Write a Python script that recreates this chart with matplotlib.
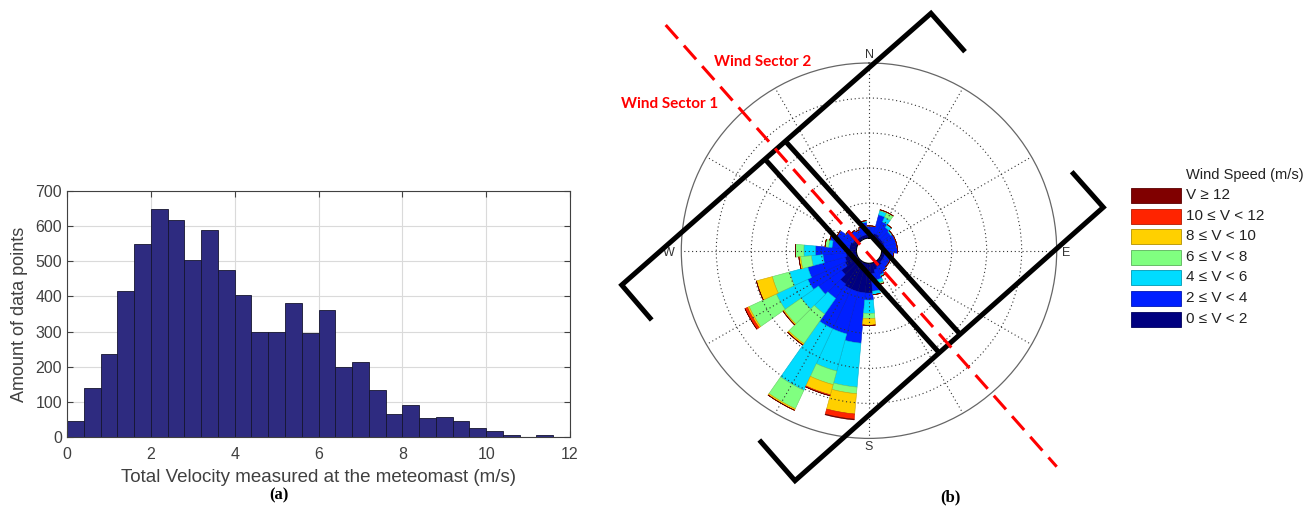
#!/usr/bin/env python

import numpy as np
import matplotlib
matplotlib.use('Agg')
import matplotlib.pyplot as plt
from matplotlib.patches import Rectangle

# (a) histogram of total velocity at the meteomast
speed_bins = [0.0, 0.4, 0.8, 1.2, 1.6, 2.0, 2.4, 2.8, 3.2, 3.6, 4.0, 4.4, 4.8, 5.2, 5.6,
              6.0, 6.4, 6.8, 7.2, 7.6, 8.0, 8.4, 8.8, 9.2, 9.6, 10.0, 10.4, 10.8, 11.2]
counts = [45, 140, 235, 415, 548, 650, 618, 503, 590, 475, 403, 298, 298, 382, 295,
          360, 198, 212, 135, 65, 90, 55, 58, 45, 27, 17, 5, 1, 5]
bin_width = 0.4

# (b) wind rose, frequency per direction (segment length per speed class)
directions = [0, 10, 20, 30, 40, 50, 60, 70, 80, 90, 100, 110, 120, 130, 140, 150, 160, 170,
              180, 190, 200, 210, 220, 230, 240, 250, 260, 270, 280, 290, 300, 310, 320, 330, 340, 350]
v0_2 = [0.10, 0.10, 0.15, 0.15, 0.10, 0.10, 0.10, 0.10, 0.10, 0.10, 0.10, 0.10, 0.10, 0.10, 0.15, 0.15, 0.20, 0.30,
        0.85, 0.85, 0.85, 0.85, 0.80, 0.60, 0.40, 0.35, 0.30, 0.25, 0.20, 0.20, 0.15, 0.10, 0.10, 0.10, 0.10, 0.10]
v2_4 = [0.25, 0.25, 0.55, 0.40, 0.35, 0.30, 0.35, 0.35, 0.35, 0.35, 0.25, 0.20, 0.20, 0.20, 0.20, 0.25, 0.30, 0.50,
        0.20, 1.44, 1.25, 1.25, 0.50, 0.80, 1.17, 1.10, 0.66, 0.92, 0.50, 0.60, 0.49, 0.35, 0.25, 0.20, 0.25, 0.35]
v4_6 = [0.00, 0.00, 0.12, 0.15, 0.10, 0.05, 0.00, 0.00, 0.00, 0.00, 0.00, 0.00, 0.00, 0.00, 0.00, 0.05, 0.10, 0.10,
        0.38, 1.26, 1.10, 1.94, 0.55, 0.60, 0.99, 0.54, 0.33, 0.33, 0.10, 0.00, 0.00, 0.00, 0.00, 0.00, 0.00, 0.05]
v6_8 = [0.00, 0.00, 0.03, 0.15, 0.00, 0.00, 0.00, 0.00, 0.00, 0.00, 0.00, 0.00, 0.00, 0.00, 0.00, 0.00, 0.05, 0.00,
        0.15, 0.19, 0.40, 0.58, 1.03, 0.60, 0.86, 0.51, 0.31, 0.24, 0.10, 0.00, 0.00, 0.00, 0.00, 0.00, 0.00, 0.00]
v8_10 = [0.00, 0.00, 0.00, 0.00, 0.00, 0.00, 0.00, 0.00, 0.00, 0.00, 0.00, 0.00, 0.00, 0.00, 0.00, 0.00, 0.00, 0.00,
         0.19, 0.58, 0.30, 0.05, 0.05, 0.04, 0.05, 0.47, 0.05, 0.00, 0.00, 0.00, 0.00, 0.00, 0.00, 0.00, 0.00, 0.00]
v10_12 = [0.00, 0.00, 0.00, 0.00, 0.00, 0.00, 0.00, 0.00, 0.00, 0.00, 0.00, 0.00, 0.00, 0.00, 0.00, 0.00, 0.00, 0.00,
          0.00, 0.15, 0.03, 0.00, 0.00, 0.00, 0.08, 0.00, 0.00, 0.00, 0.00, 0.00, 0.00, 0.00, 0.00, 0.00, 0.00, 0.00]
v12 = [0.00, 0.00, 0.00, 0.00, 0.00, 0.00, 0.00, 0.00, 0.00, 0.00, 0.00, 0.00, 0.00, 0.00, 0.00, 0.00, 0.00, 0.00,
       0.00, 0.02, 0.00, 0.00, 0.00, 0.00, 0.00, 0.00, 0.00, 0.00, 0.00, 0.00, 0.00, 0.00, 0.00, 0.00, 0.00, 0.00]

speed_classes = [v0_2, v2_4, v4_6, v6_8, v8_10, v10_12, v12]
class_colors = ['#000080', '#0020ff', '#00dcff', '#80ff80', '#ffd000', '#ff2400', '#800000']
class_labels = ['0 \u2264 V < 2', '2 \u2264 V < 4', '4 \u2264 V < 6', '6 \u2264 V < 8',
                '8 \u2264 V < 10', '10 \u2264 V < 12', 'V \u2265 12']

# sector outlines drawn over the rose (figure pixels)
outline_ul = [(965, 51.7), (931, 13.3), (621.7, 285), (651.7, 320)]
outline_lr = [(1071.7, 171.7), (1103.3, 207.3), (795, 480.7), (759.3, 440)]
strip_1 = [(765.7, 160), (938.3, 351.7)]
strip_2 = [(786.7, 142.7), (959.3, 333.3)]
sector_axis = [(665.7, 25), (1056.7, 466.7)]


def darker(c, f=0.8):
    rgb = np.array(matplotlib.colors.to_rgb(c))
    return tuple(rgb * f)


def main():
    W, H = 1314, 513
    fig = plt.figure(figsize=(W / 100, H / 100), dpi=100)
    plt.rcParams['font.family'] = ['Liberation Sans', 'DejaVu Sans']

    # ---------- (a) histogram ----------
    ax = fig.add_axes([67 / W, (H - 437) / H, 503 / W, 246 / H])
    ax.bar(speed_bins, counts, width=bin_width, align='edge',
           color='#2e2b80', edgecolor='#151530', linewidth=0.6, zorder=2)
    ax.set_xlim(0, 12)
    ax.set_ylim(0, 700)
    ax.set_xticks(range(0, 13, 2))
    ax.set_yticks(range(0, 701, 100))
    ax.grid(True, color='#dadada', linewidth=0.8, zorder=0)
    ax.set_axisbelow(True)
    ax.tick_params(direction='in', length=4, labelsize=11.5, colors='#404040',
                   top=True, right=True)
    ax.tick_params(axis='x', pad=7)
    for s in ax.spines.values():
        s.set_color('#404040')
        s.set_linewidth(0.8)
    ax.set_xlabel('Total Velocity measured at the meteomast (m/s)', fontsize=13.5,
                  color='#404040', labelpad=5)
    ax.set_ylabel('Amount of data points', fontsize=13, color='#404040', labelpad=5)

    # ---------- (b) wind rose ----------
    R = 187.7
    cx, cy = 869, 250.7
    pax = fig.add_axes([(cx - R) / W, (H - cy - R) / H, 2 * R / W, 2 * R / H],
                       projection='polar')
    pax.set_theta_zero_location('N')
    pax.set_theta_direction(-1)
    pax.set_ylim(0, 5)
    pax.set_rorigin(-0.36)

    theta = np.deg2rad(directions)
    bottom = np.zeros(len(directions))
    for vals, col in zip(speed_classes, class_colors):
        vals = np.array(vals)
        pax.bar(theta, vals, width=np.deg2rad(10), bottom=bottom, color=col,
                edgecolor=darker(col), linewidth=0.4, zorder=1)
        bottom = bottom + vals

    pax.set_rgrids([1, 2, 3, 4], labels=[])
    pax.set_thetagrids(range(0, 360, 30), labels=[])
    pax.grid(True, color='#333333', linestyle=(0, (1, 2.5)), linewidth=0.8)
    pax.set_axisbelow(False)
    pax.tick_params(length=0)
    pax.spines['polar'].set_color('#666666')
    pax.spines['polar'].set_linewidth(0.9)
    pax.spines['inner'].set_visible(False)

    for lab, x, y in [('N', 0.5, 1.02), ('S', 0.5, -0.022), ('E', 1.024, 0.495), ('W', -0.032, 0.495)]:
        pax.text(x, y, lab, transform=pax.transAxes, ha='center', va='center',
                 fontsize=9, color='#333333')

    # ---------- overlay: sectors, legend, captions ----------
    ov = fig.add_axes([0, 0, 1, 1], zorder=5)
    ov.set_xlim(0, W)
    ov.set_ylim(H, 0)
    ov.axis('off')

    for pts in [outline_ul, outline_lr, strip_1, strip_2]:
        xs, ys = zip(*pts)
        ov.plot(xs, ys, color='black', linewidth=3.6, solid_joinstyle='miter',
                solid_capstyle='butt')
    xs, ys = zip(*sector_axis)
    ov.plot(xs, ys, color='#ff0000', linewidth=2.2, dashes=(6, 3))

    ov.text(763, 62, 'Wind Sector 2', color='#ff0000', fontsize=11, fontweight='bold',
            family=['Lato', 'DejaVu Sans'], ha='center', va='center')
    ov.text(670, 104, 'Wind Sector 1', color='#ff0000', fontsize=11, fontweight='bold',
            family=['Lato', 'DejaVu Sans'], ha='center', va='center')

    # legend
    ov.text(1186, 175, 'Wind Speed (m/s)', fontsize=10.5, color='#222222', ha='left', va='center')
    ys_leg = [319, 298, 277, 257, 236, 216, 195]
    for yl, col, lab in zip(ys_leg, class_colors, class_labels):
        ov.add_patch(Rectangle((1131, yl - 7.5), 50, 15, facecolor=col,
                               edgecolor=darker(col, 0.7), linewidth=0.6))
        ov.text(1186, yl, lab, fontsize=11, color='#222222', ha='left', va='center')

    ov.text(279, 495, '(a)', fontsize=12, fontweight='bold', family='Liberation Serif',
            ha='center', va='center')
    ov.text(950, 497, '(b)', fontsize=12, fontweight='bold', family='Liberation Serif',
            ha='center', va='center')

    fig.savefig('out.png', dpi=100)


if __name__ == "__main__":
    main()
